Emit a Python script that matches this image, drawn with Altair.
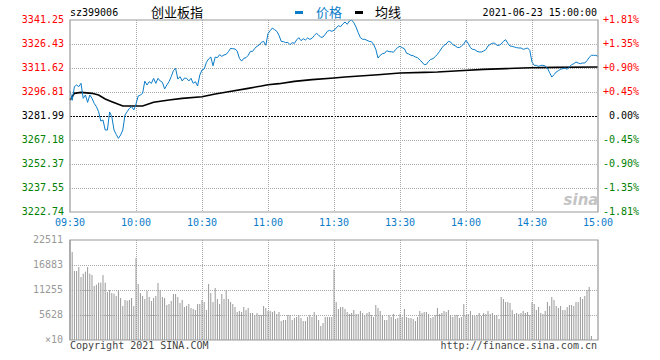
import altair as alt
import pandas as pd

# ---------------- data ----------------
prev_close = 3281.99

# price per minute, index 0 = 09:30 ... 120 = 11:30/13:00 ... 240 = 15:00
price = [
    3297.42, 3291.66, 3300.10, 3301.13, 3300.10, 3302.16, 3292.90, 3294.95, 3290.43, 3294.95,
    3292.90, 3289.81, 3287.75, 3284.66, 3278.90, 3279.50, 3273.35, 3273.35, 3284.50, 3281.60,
    3273.35, 3270.67, 3268.20, 3270.26, 3273.35, 3282.61, 3284.66, 3286.72, 3287.75, 3285.70,
    3289.40, 3294.34, 3294.95, 3295.98, 3303.50, 3301.13, 3303.18, 3302.16, 3305.24, 3302.16,
    3305.24, 3303.60, 3302.80, 3298.70, 3301.13, 3303.18, 3306.27, 3310.00, 3311.41, 3304.80,
    3306.27, 3303.60, 3305.40, 3305.24, 3303.60, 3305.24, 3302.16, 3303.18, 3300.50, 3307.30,
    3310.39, 3311.00, 3315.10, 3317.20, 3318.40, 3313.00, 3318.40, 3318.00, 3319.85, 3318.80,
    3319.65, 3320.06, 3321.70, 3323.76, 3323.55, 3323.35, 3322.10, 3317.59, 3315.90, 3317.59,
    3318.00, 3319.44, 3321.91, 3321.90, 3323.76, 3325.00, 3325.82, 3327.47, 3328.08, 3325.61,
    3332.81, 3334.67, 3336.31, 3335.28, 3334.26, 3331.79, 3328.08, 3327.90, 3327.26, 3327.47,
    3326.02, 3327.26, 3326.85, 3328.90, 3330.35, 3328.49, 3329.73, 3328.90, 3330.14, 3329.32,
    3329.93, 3331.58, 3333.02, 3331.99, 3330.55, 3330.76, 3332.40, 3334.26, 3334.87, 3334.26,
    3334.87, 3336.31, 3337.75, 3337.13, 3338.78, 3340.02, 3338.58, 3340.63, 3341.25, 3339.60,
    3336.93, 3333.43, 3330.35, 3329.32, 3329.32, 3328.70, 3328.08, 3327.90, 3326.23, 3323.14,
    3317.79, 3319.44, 3320.47, 3320.70, 3322.32, 3321.70, 3321.70, 3321.30, 3322.94, 3324.38,
    3325.00, 3324.17, 3323.55, 3320.68, 3320.26, 3319.44, 3319.20, 3318.41, 3318.00, 3316.56,
    3315.32, 3313.68, 3313.88, 3315.74, 3316.97, 3317.38, 3318.62, 3320.06, 3321.91, 3323.97,
    3325.61, 3326.44, 3328.08, 3327.67, 3326.02, 3325.41, 3324.38, 3324.20, 3325.20, 3326.44,
    3328.70, 3326.85, 3324.20, 3323.14, 3322.94, 3321.91, 3321.50, 3321.50, 3322.10, 3322.94,
    3325.20, 3326.23, 3326.85, 3327.05, 3325.61, 3325.61, 3326.44, 3328.08, 3329.11, 3326.85,
    3325.20, 3325.00, 3324.58, 3324.20, 3323.97, 3323.97, 3323.14, 3323.55, 3323.97, 3322.53,
    3315.32, 3313.27, 3313.27, 3312.65, 3313.27, 3313.27, 3312.86, 3311.62, 3308.74, 3306.06,
    3307.50, 3309.15, 3309.97, 3310.80, 3311.21, 3311.62, 3310.80, 3312.24, 3313.68, 3314.29,
    3315.32, 3314.70, 3314.29, 3314.70, 3314.70, 3316.15, 3318.20, 3319.44, 3319.44, 3319.44,
    3318.82,
]

avg_minutes = [0, 2, 5, 10, 13, 16, 19, 22, 24, 30, 33, 38, 45, 51, 60, 66, 72, 81, 87, 90,
               95, 102, 110, 120, 125, 140, 150, 161, 167, 177, 188, 198, 209, 220, 240]
avg_price = [3291.87, 3295.98, 3296.60, 3295.98, 3294.95, 3292.48, 3290.84, 3289.19, 3288.16,
             3288.16, 3288.16, 3290.43, 3291.87, 3292.90, 3293.92, 3295.57, 3297.01, 3299.07,
             3300.51, 3301.33, 3301.95, 3303.39, 3304.42, 3305.45, 3306.06, 3307.50, 3308.53,
             3308.95, 3309.15, 3309.97, 3310.80, 3311.21, 3311.82, 3312.03, 3312.24]

# volume per minute (x10)
volume = [
    22511, 19800, 15530, 15530, 16430, 14180, 14930, 15380, 16430, 14930,
    14630, 12160, 12460, 12910, 12910, 14630, 12910, 10800, 11255, 10580,
    10430, 9900, 11255, 9450, 7650, 9000, 8850, 9000, 9450, 7650,
    18460, 12600, 10580, 9900, 9230, 11030, 9680, 8780, 9450, 9900,
    12830, 11255, 9680, 9450, 7880, 8100, 8780, 10360, 10360, 9680,
    8330, 9000, 7430, 7650, 8100, 7200, 6980, 6750, 8100, 8100,
    9000, 8550, 6750, 12600, 10580, 8550, 11700, 9230, 8100, 10360,
    9230, 11255, 9230, 8550, 8100, 7430, 6300, 6530, 6300, 7430,
    6750, 7200, 6080, 6080, 5630, 6080, 5630, 5630, 7650, 7200,
    6530, 6530, 6300, 6530, 5850, 6300, 4280, 4500, 4500, 5630,
    5630, 4500, 4950, 5180, 5630, 4950, 4280, 4280, 5180, 5630,
    5180, 6300, 5630, 4500, 3150, 3830, 5180, 5180, 5180, 5180,
    15830, 8550, 6980, 7430, 7430, 6980, 6300, 5850, 6080, 6750,
    5850, 5850, 6530, 6080, 5630, 6080, 6300, 5630, 5180, 7880,
    7200, 6530, 5630, 4500, 4500, 5630, 5180, 5850, 4730, 4950,
    5850, 5180, 6980, 5180, 4950, 4950, 4730, 4280, 5180, 6530,
    6080, 6300, 6300, 5850, 4950, 5180, 5630, 7200, 5850, 6080,
    6530, 6300, 6750, 5630, 5180, 5630, 5630, 4950, 5180, 8100,
    5630, 5850, 6530, 5630, 5400, 5630, 6080, 5400, 6080, 5850,
    6530, 5850, 6080, 5630, 5630, 4730, 9680, 9230, 8550, 8550,
    8330, 6750, 5850, 6080, 5850, 6080, 6530, 6080, 6300, 5630,
    8550, 8100, 6750, 7430, 6080, 5850, 6530, 8550, 7650, 9680,
    9000, 7650, 7200, 7650, 6750, 6750, 7430, 7880, 7880, 7650,
    8550, 8550, 9680, 9230, 9900, 11255, 11930, 900,
]

price_ticks = [3341.25, 3326.43, 3311.62, 3296.81, 3281.99, 3267.18, 3252.37, 3237.55, 3222.74]
pct_labels = ["+1.81%", "+1.35%", "+0.90%", "+0.45%", "0.00%", "-0.45%", "-0.90%", "-1.35%", "-1.81%"]
time_ticks = [0, 30, 60, 90, 120, 150, 180, 210, 240]
time_labels = ["09:30", "10:00", "10:30", "11:00", "11:30", "13:30", "14:00", "14:30", "15:00"]
vol_ticks = [22511, 16883, 11255, 5628, 0]
vol_labels = ["22511", "16883", "11255", "5628", "×10"]

symbol = "sz399006"
index_name = "创业板指"
legend_price = "价格"
legend_avg = "均线"
stamp = "2021-06-23 15:00:00"
copyright_text = "Copyright 2021 SINA.COM"
url_text = "http://finance.sina.com.cn"

# ---------------- layout / style ----------------
W, H_MAIN, VOL_TOP, VOL_BOT = 528, 192, 220, 320
FONT = "DejaVu Sans Mono"
CJK = "Noto Sans CJK SC"
BLUE = "#0a7cc8"
GRID = "#aaaaaa"
FRAME = "#999999"

xs = alt.Scale(domain=[time_ticks[0], time_ticks[-1]], nice=False, zero=False)
ps = alt.Scale(domain=[price_ticks[-1], price_ticks[0]], range=[H_MAIN, 0], nice=False, zero=False)
vs = alt.Scale(domain=[0, vol_ticks[0]], range=[VOL_BOT, VOL_TOP], nice=False, zero=False)


def pcolor(v):
    if v > prev_close + 0.001:
        return "#ff0000"
    if v < prev_close - 0.001:
        return "#008000"
    return "#000000"


price_df = pd.DataFrame({"minute": list(range(len(price))), "price": price})
avg_df = pd.DataFrame({"minute": avg_minutes, "avg": avg_price})
vol_df = pd.DataFrame({"minute": list(range(len(volume))), "vol": volume})
pt_df = pd.DataFrame({
    "value": price_ticks,
    "label": [f"{v:.2f}" for v in price_ticks],
    "pct": pct_labels,
    "color": [pcolor(v) for v in price_ticks],
})
t_df = pd.DataFrame({"minute": time_ticks, "label": time_labels})
vt_df = pd.DataFrame({"value": vol_ticks, "label": vol_labels})
one = pd.DataFrame({"k": [0]})

X = alt.X("minute:Q", scale=xs, axis=None)
YP = alt.Y("value:Q", scale=ps, axis=None)
YV = alt.Y("value:Q", scale=vs, axis=None)

inner_p = pt_df[(pt_df.value != price_ticks[0]) & (pt_df.value != price_ticks[-1]) & (pt_df.value != prev_close)]
inner_t = t_df[(t_df.minute != time_ticks[0]) & (t_df.minute != time_ticks[-1])]
inner_v = vt_df[(vt_df.value != vol_ticks[0]) & (vt_df.value != 0)]

hgrid = alt.Chart(inner_p).mark_rule(color=GRID, strokeDash=[1, 1], strokeWidth=1, yOffset=0.5).encode(
    y=YP, x=alt.value(0), x2=alt.value(W))
zero_line = alt.Chart(pt_df[pt_df.value == prev_close]).mark_rule(
    color="black", strokeDash=[2, 1], strokeWidth=1, yOffset=0.5).encode(y=YP, x=alt.value(0), x2=alt.value(W))
vgrid_main = alt.Chart(inner_t).mark_rule(color=GRID, strokeDash=[1, 1], strokeWidth=1, xOffset=0.5).encode(
    x=X, y=alt.value(0), y2=alt.value(H_MAIN))
vgrid_vol = alt.Chart(inner_t).mark_rule(color=GRID, strokeDash=[1, 1], strokeWidth=1, xOffset=0.5).encode(
    x=X, y=alt.value(VOL_TOP), y2=alt.value(VOL_BOT))
hgrid_vol = alt.Chart(inner_v).mark_rule(color=GRID, strokeDash=[1, 1], strokeWidth=1, yOffset=0.5).encode(
    y=YV, x=alt.value(0), x2=alt.value(W))

bars = alt.Chart(vol_df).mark_rule(color="#999999", strokeWidth=1).encode(
    x=X, y=alt.Y("vol:Q", scale=vs, axis=None), y2=alt.value(VOL_BOT))

price_line = alt.Chart(price_df).mark_line(color=BLUE, strokeWidth=1).encode(
    x=X, y=alt.Y("price:Q", scale=ps, axis=None))
avg_line = alt.Chart(avg_df).mark_line(color="black", strokeWidth=1.6).encode(
    x=X, y=alt.Y("avg:Q", scale=ps, axis=None))

frame_main = alt.Chart(one).mark_rect(fillOpacity=0, stroke=FRAME, strokeWidth=1.2).encode(
    x=alt.value(0), x2=alt.value(W), y=alt.value(0), y2=alt.value(H_MAIN))
frame_vol = alt.Chart(one).mark_rect(fillOpacity=0, stroke=FRAME, strokeWidth=1.2).encode(
    x=alt.value(0), x2=alt.value(W), y=alt.value(VOL_TOP), y2=alt.value(VOL_BOT))

left_lbl = alt.Chart(pt_df).mark_text(align="right", baseline="middle", font=FONT, fontSize=10).encode(
    x=alt.value(-6), y=YP, text="label:N", color=alt.Color("color:N", scale=None))
right_lbl = alt.Chart(pt_df).mark_text(align="right", baseline="middle", font=FONT, fontSize=10).encode(
    x=alt.value(569), y=YP, text="pct:N", color=alt.Color("color:N", scale=None))
time_lbl = alt.Chart(t_df).mark_text(align="center", baseline="middle", font=FONT, fontSize=10, color=BLUE).encode(
    x=X, y=alt.value(H_MAIN + 11), text="label:N")
vol_lbl = alt.Chart(vt_df).mark_text(align="right", baseline="middle", font=FONT, fontSize=10, color="#999999").encode(
    x=alt.value(-7), y=YV, text="label:N")


def txt(s, x, y, align="left", font=FONT, size=10, color="black", **kw):
    return alt.Chart(pd.DataFrame({"t": [s]})).mark_text(
        align=align, baseline="middle", font=font, fontSize=size, color=color, **kw
    ).encode(x=alt.value(x), y=alt.value(y), text="t:N")


header = [
    txt(symbol, 0, -7.5),
    txt(index_name, 107, -7.5, align="center", font=CJK, size=13),
    txt(legend_price, 259, -7.5, align="center", font=CJK, size=13, color=BLUE),
    txt(legend_avg, 318, -7.5, align="center", font=CJK, size=13),
    txt(stamp, 527, -7.5, align="right"),
    txt(copyright_text, 0, VOL_BOT + 6, color="#444444"),
    txt(url_text, 527, VOL_BOT + 6, align="right", color="#444444"),
    txt("sina", 511, 180, align="center", font="DejaVu Sans", size=15, color="#c4c4c4",
        fontStyle="italic", fontWeight="bold"),
]
legend_marks = [
    alt.Chart(one).mark_rule(color=BLUE, strokeWidth=3).encode(
        x=alt.value(225), x2=alt.value(233), y=alt.value(-7.5)),
    alt.Chart(one).mark_rule(color="black", strokeWidth=3).encode(
        x=alt.value(285), x2=alt.value(293), y=alt.value(-7.5)),
]

chart = alt.layer(
    hgrid, zero_line, vgrid_main, vgrid_vol, hgrid_vol, bars,
    avg_line, price_line, frame_main, frame_vol,
    left_lbl, right_lbl, time_lbl, vol_lbl, *header, *legend_marks,
).resolve_scale(y="independent").properties(
    width=W, height=VOL_BOT,
    padding={"left": 70, "top": 20, "right": 62, "bottom": 20},
    autosize=alt.AutoSizeParams(type="none"),
    background="white",
).configure_view(strokeWidth=0)

chart.save("out.html", embed_options={"renderer": "svg", "actions": False})
